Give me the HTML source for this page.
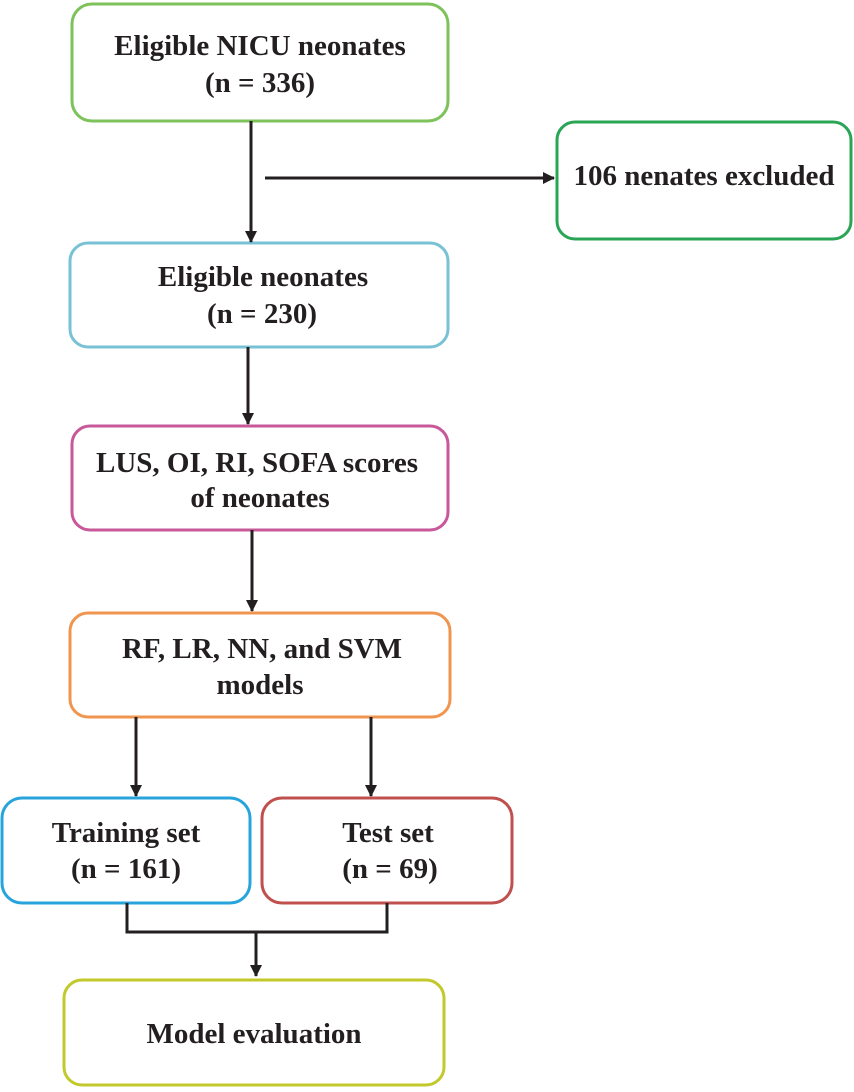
<!DOCTYPE html>
<html><head><style>
body{margin:0;background:#fff;}
svg text{font-family:"Liberation Serif",serif;font-weight:bold;font-size:29px;fill:#231f20;text-anchor:middle;}
</style></head><body>
<svg width="854" height="1087" viewBox="0 0 854 1087" xmlns="http://www.w3.org/2000/svg">
<defs><marker id="a" markerWidth="12" markerHeight="12" refX="11" refY="6" orient="auto" markerUnits="userSpaceOnUse"><path d="M0,0 L12,6 L0,12 z" fill="#231f20"/></marker></defs>
<g fill="#fff" stroke-width="3">
<rect x="72" y="4" width="376" height="117" rx="20" stroke="#7dc25a"/>
<rect x="557" y="122" width="294" height="117" rx="18" stroke="#2aa556"/>
<rect x="70" y="243" width="378" height="104" rx="18" stroke="#79c2d6"/>
<rect x="72" y="426" width="376" height="104" rx="18" stroke="#c8589a"/>
<rect x="70" y="613" width="380" height="104" rx="18" stroke="#f0954f"/>
<rect x="2" y="798" width="248" height="105" rx="20" stroke="#28a4dd"/>
<rect x="262" y="798" width="250" height="105" rx="20" stroke="#c0504d"/>
<rect x="64" y="980" width="380" height="105" rx="18" stroke="#c2c92a"/>
</g>
<g stroke="#231f20" stroke-width="3" fill="none">
<line x1="251" y1="121" x2="251" y2="242" marker-end="url(#a)"/>
<line x1="265" y1="178" x2="554" y2="178" marker-end="url(#a)"/>
<line x1="248" y1="347" x2="248" y2="424" marker-end="url(#a)"/>
<line x1="252" y1="530" x2="252" y2="611" marker-end="url(#a)"/>
<line x1="136" y1="717" x2="136" y2="796" marker-end="url(#a)"/>
<line x1="371" y1="717" x2="371" y2="796" marker-end="url(#a)"/>
<polyline points="127,903 127,932 387,932 387,903"/>
<line x1="256" y1="932" x2="256" y2="976" marker-end="url(#a)"/>
</g>
<text x="260" y="55">Eligible NICU neonates</text>
<text x="260" y="92">(n = 336)</text>
<text x="704" y="185">106 nenates excluded</text>
<text x="263" y="286">Eligible neonates</text>
<text x="262" y="323">(n = 230)</text>
<text x="257" y="472">LUS, OI, RI, SOFA scores</text>
<text x="260" y="507">of neonates</text>
<text x="262" y="658">RF, LR, NN, and SVM</text>
<text x="260" y="694">models</text>
<text x="126" y="842">Training set</text>
<text x="126" y="878">(n = 161)</text>
<text x="388" y="842">Test set</text>
<text x="390" y="878">(n = 69)</text>
<text x="254" y="1043">Model evaluation</text>
</svg>
</body></html>
